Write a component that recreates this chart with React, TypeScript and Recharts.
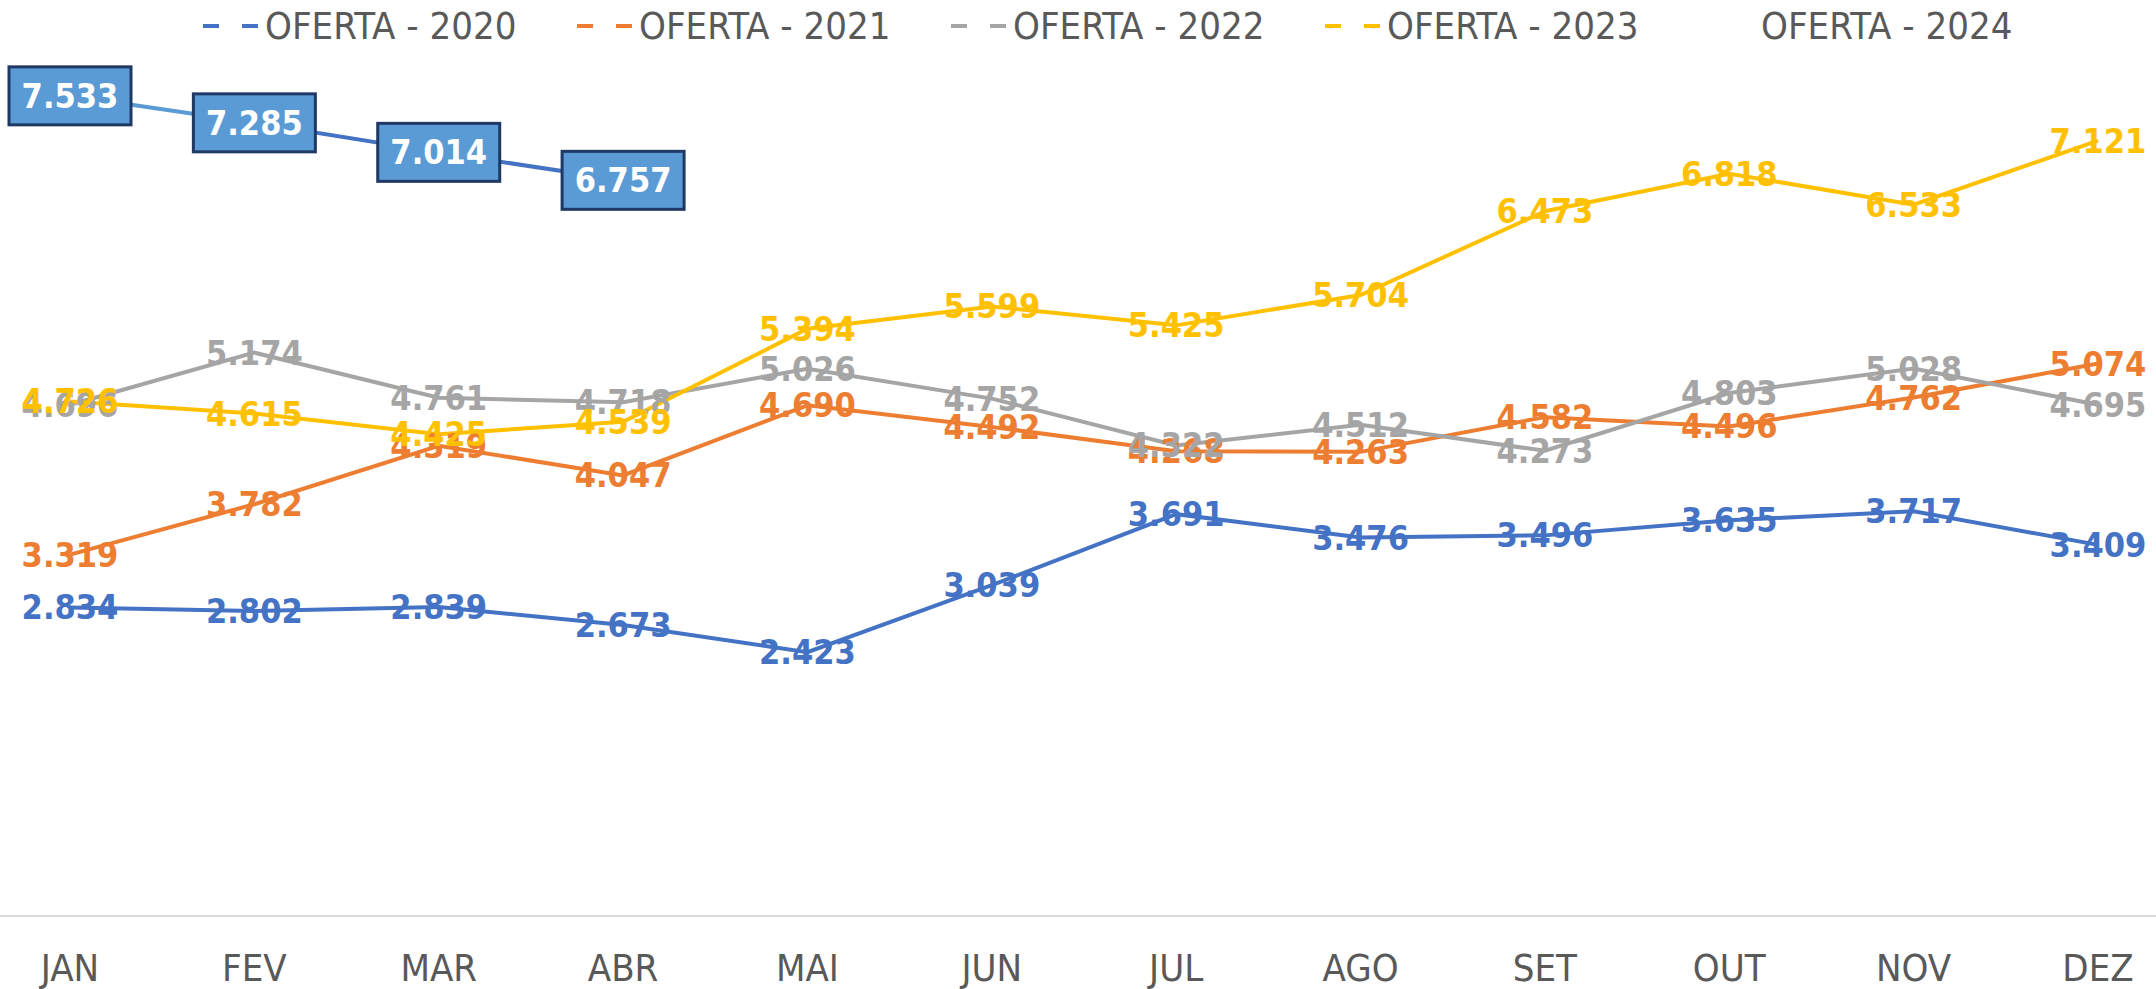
import { LineChart, Line, XAxis, YAxis, Legend } from "recharts";

const FONT = "'DejaVu Sans Condensed', 'Liberation Sans Narrow', 'Open Sans', sans-serif";

const months = ["JAN", "FEV", "MAR", "ABR", "MAI", "JUN", "JUL", "AGO", "SET", "OUT", "NOV", "DEZ"];

const oferta2020 = [2.834, 2.802, 2.839, 2.673, 2.423, 3.039, 3.691, 3.476, 3.496, 3.635, 3.717, 3.409];
const oferta2021 = [3.319, 3.782, 4.319, 4.047, 4.69, 4.492, 4.268, 4.263, 4.582, 4.496, 4.762, 5.074];
const oferta2022 = [4.696, 5.174, 4.761, 4.718, 5.026, 4.752, 4.322, 4.512, 4.273, 4.803, 5.028, 4.695];
const oferta2023 = [4.726, 4.615, 4.425, 4.539, 5.394, 5.599, 5.425, 5.704, 6.473, 6.818, 6.533, 7.121];
const oferta2024 = [7.533, 7.285, 7.014, 6.757, null, null, null, null, null, null, null, null];

const series = [
  { name: "OFERTA - 2020", values: oferta2020, color: "#4472C4", legendLine: true },
  { name: "OFERTA - 2021", values: oferta2021, color: "#ED7D31", legendLine: true },
  { name: "OFERTA - 2022", values: oferta2022, color: "#A5A5A5", legendLine: true },
  { name: "OFERTA - 2023", values: oferta2023, color: "#FFC000", legendLine: true },
  { name: "OFERTA - 2024", values: oferta2024, color: "#4472C4", legendLine: false },
];

const data = months.map((mes, i) => {
  const row: { [key: string]: string | number | null } = { mes };
  series.forEach((s) => {
    row[s.name] = s.values[i];
  });
  return row;
});

const fmt = (v: number) => v.toFixed(3);

const makeLabel = (color: string) => (props: any) => {
  const { x, y, value } = props;
  if (value == null) return null;
  return (
    <text
      x={x}
      y={y}
      textAnchor="middle"
      dominantBaseline="central"
      fill={color}
      fontFamily={FONT}
      fontWeight="bold"
      fontSize={34}
    >
      {fmt(value)}
    </text>
  );
};

const boxLabel = (props: any) => {
  const { x, y, value } = props;
  if (value == null) return null;
  return (
    <g>
      <rect x={x - 61} y={y - 29} width={122} height={58} fill="#5B9BD5" stroke="#1F3864" strokeWidth={3} />
      <text
        x={x}
        y={y}
        textAnchor="middle"
        dominantBaseline="central"
        fill="#FFFFFF"
        fontFamily={FONT}
        fontWeight="bold"
        fontSize={34}
      >
        {fmt(value)}
      </text>
    </g>
  );
};

// legend items are absolutely placed so the legend takes no height from the plot
const renderLegend = () => (
  <div style={{ position: "relative", height: 1, width: 2156 }}>
    {series.map((s, i) => (
      <div
        key={s.name}
        style={{
          position: "absolute",
          left: 203 + i * 374,
          top: 4,
          display: "flex",
          alignItems: "center",
          fontFamily: FONT,
          fontSize: 38,
          color: "#595959",
          whiteSpace: "nowrap",
        }}
      >
        <svg width={60} height={20} style={{ marginRight: 2 }}>
          {s.legendLine && (
            <line x1={0} y1={10} x2={58} y2={10} stroke={s.color} strokeWidth={4} strokeDasharray="16 23" />
          )}
        </svg>
        {s.name}
      </div>
    ))}
  </div>
);

export default function App() {
  return (
    <div style={{ position: "absolute", left: 0, top: 0, background: "#fff" }}>
      <LineChart width={2156} height={989} data={data} margin={{ top: 44, right: 0, left: 0, bottom: 0 }}>
        <defs>
          <linearGradient id="grad2024" x1="0" y1="0" x2="1" y2="0">
            <stop offset="0%" stopColor="#5B9BD5" />
            <stop offset="33.3%" stopColor="#5B9BD5" />
            <stop offset="33.3%" stopColor="#4472C4" />
            <stop offset="100%" stopColor="#4472C4" />
          </linearGradient>
        </defs>
        <XAxis
          dataKey="mes"
          height={73}
          padding={{ left: 70, right: 58 }}
          axisLine={{ stroke: "#D9D9D9", strokeWidth: 2 }}
          tickLine={false}
          tickSize={0}
          tickMargin={38}
          tick={{ fill: "#595959", fontSize: 38, fontFamily: FONT }}
          interval={0}
        />
        <YAxis hide domain={[0, 8]} />
        <Legend verticalAlign="top" content={renderLegend} wrapperStyle={{ top: 0, left: 0 }} />
        {series.slice(0, 4).map((s) => (
          <Line
            key={s.name}
            type="linear"
            dataKey={s.name}
            stroke={s.color}
            strokeWidth={4}
            dot={false}
            activeDot={false}
            isAnimationActive={false}
            label={makeLabel(s.color)}
          />
        ))}
        <Line
          type="linear"
          dataKey="OFERTA - 2024"
          stroke="url(#grad2024)"
          strokeWidth={4}
          dot={false}
          activeDot={false}
          connectNulls={false}
          isAnimationActive={false}
          label={boxLabel}
        />
      </LineChart>
    </div>
  );
}
